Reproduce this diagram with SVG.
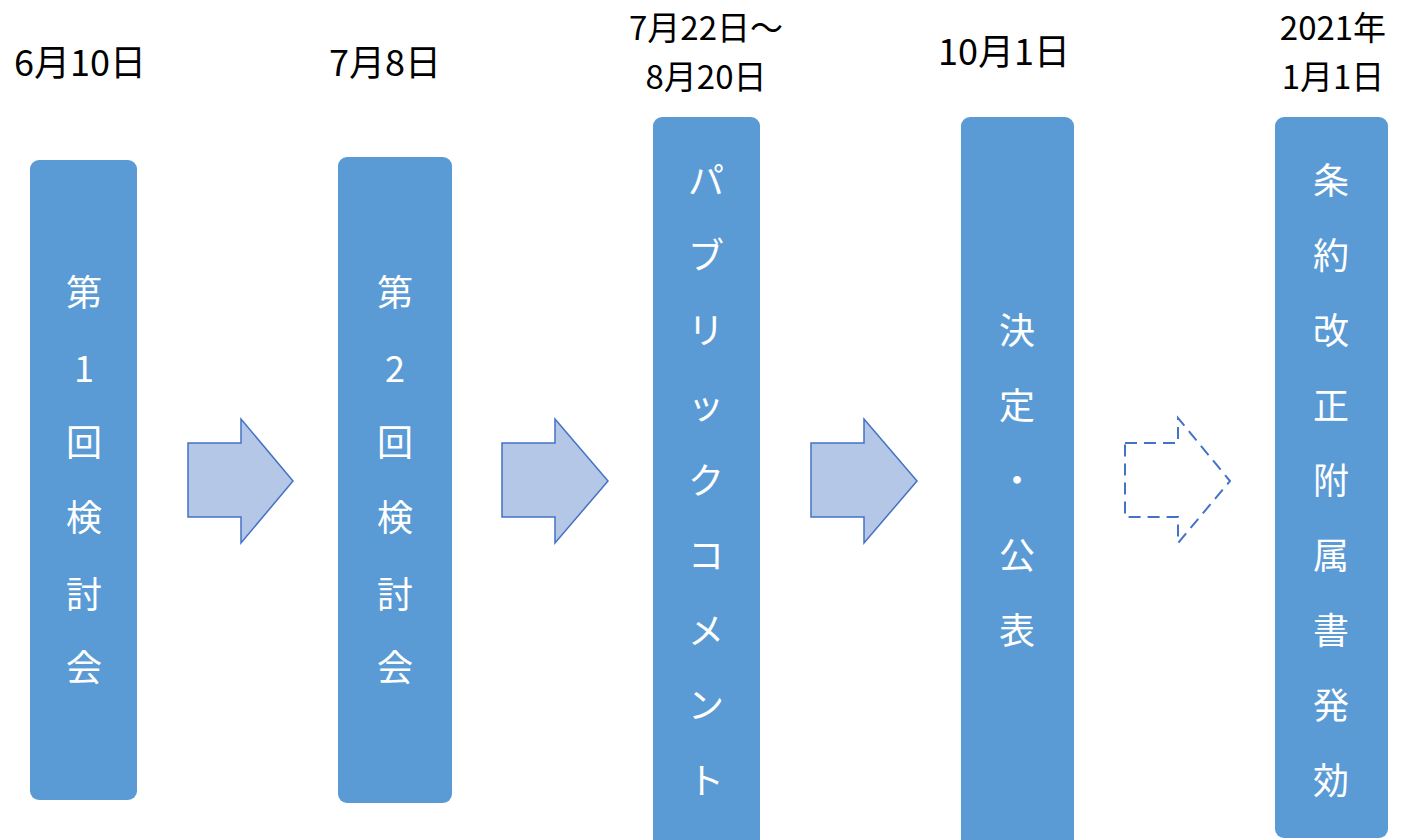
<svg xmlns="http://www.w3.org/2000/svg" width="1406" height="840" viewBox="0 0 1406 840">
<style>
.box{fill:#5B9BD5;}
.lbl{fill:#FFFFFF;font-family:"Noto Sans CJK JP","Noto Sans",sans-serif;font-size:36px;text-anchor:middle;dominant-baseline:central;}
.date{fill:#000000;font-family:"Noto Sans CJK JP","Noto Sans",sans-serif;font-size:36px;text-anchor:middle;}
.date2{fill:#000000;font-family:"Noto Sans CJK JP","Noto Sans",sans-serif;font-size:33px;text-anchor:middle;}
.arr{fill:#B4C7E7;stroke:#4472C4;stroke-width:1.5;}
.darr{fill:none;stroke:#4472C4;stroke-width:2;stroke-dasharray:12,7;}
</style>
<rect width="1406" height="840" fill="#FFFFFF"/>
<g id="dates">
<text class="date" x="80" y="76">6月10日</text>
<text class="date" x="385" y="76">7月8日</text>
<text class="date2" x="706" y="40">7月22日～</text>
<text class="date2" x="706" y="89">8月20日</text>
<text class="date" x="1004" y="65">10月1日</text>
<text class="date2" x="1333" y="40">2021年</text>
<text class="date2" x="1333" y="89">1月1日</text>
</g>
<g id="node1">
<rect class="box" x="30" y="160" width="107" height="640" rx="9"/>
<text class="lbl" x="84" y="290">第</text>
<text class="lbl" x="84" y="366">1</text>
<text class="lbl" x="84" y="440">回</text>
<text class="lbl" x="84" y="515">検</text>
<text class="lbl" x="84" y="592">討</text>
<text class="lbl" x="84" y="665">会</text>
</g>
<g id="node2">
<rect class="box" x="338" y="157" width="114" height="646" rx="9"/>
<text class="lbl" x="395" y="290">第</text>
<text class="lbl" x="395" y="366">2</text>
<text class="lbl" x="395" y="440">回</text>
<text class="lbl" x="395" y="515">検</text>
<text class="lbl" x="395" y="592">討</text>
<text class="lbl" x="395" y="665">会</text>
</g>
<g id="node3">
<rect class="box" x="653" y="117" width="107" height="740" rx="9"/>
<text class="lbl" x="706" y="178">パ</text>
<text class="lbl" x="706" y="253">ブ</text>
<text class="lbl" x="706" y="328">リ</text>
<text class="lbl" x="706" y="403">ッ</text>
<text class="lbl" x="706" y="478">ク</text>
<text class="lbl" x="706" y="553">コ</text>
<text class="lbl" x="706" y="628">メ</text>
<text class="lbl" x="706" y="703">ン</text>
<text class="lbl" x="706" y="778">ト</text>
</g>
<g id="node4">
<rect class="box" x="961" y="117" width="113" height="740" rx="9"/>
<text class="lbl" x="1017" y="328">決</text>
<text class="lbl" x="1017" y="403">定</text>
<text class="lbl" x="1017" y="478">・</text>
<text class="lbl" x="1017" y="553">公</text>
<text class="lbl" x="1017" y="628">表</text>
</g>
<g id="node5">
<rect class="box" x="1275" y="117" width="113" height="721" rx="9"/>
<text class="lbl" x="1331" y="178">条</text>
<text class="lbl" x="1331" y="253">約</text>
<text class="lbl" x="1331" y="328">改</text>
<text class="lbl" x="1331" y="403">正</text>
<text class="lbl" x="1331" y="478">附</text>
<text class="lbl" x="1331" y="553">属</text>
<text class="lbl" x="1331" y="628">書</text>
<text class="lbl" x="1331" y="703">発</text>
<text class="lbl" x="1331" y="778">効</text>
</g>
<g id="connectors">
<path class="arr" d="M188,443 H241 V419 L293,481 L241,543 V517 H188 Z"/>
<path class="arr" d="M502,443 H555 V419 L608,481 L555,543 V517 H502 Z"/>
<path class="arr" d="M811,443 H864 V419 L917,481 L864,543 V517 H811 Z"/>
<path class="darr" d="M1125,443 H1178 V418 L1230,481 L1178,543 V517 H1125 Z"/>
</g>
</svg>
